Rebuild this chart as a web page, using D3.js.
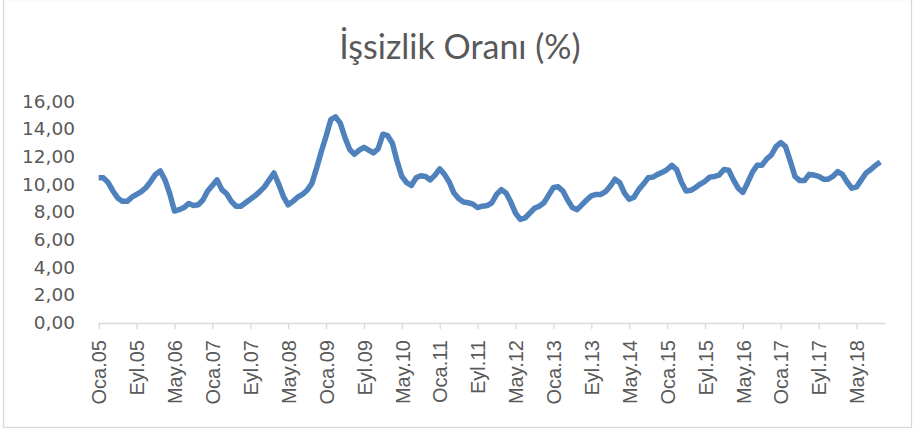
<!DOCTYPE html>
<html>
<head>
<meta charset="utf-8">
<script src="https://cdn.jsdelivr.net/npm/d3@7"></script>
<style>
  body { margin: 0; background: #fff; }
  .title { font-family: Lato, "Open Sans", sans-serif; fill: #595959; }
  .yl { font-family: "DejaVu Sans", sans-serif; fill: #595959; }
  .xaxis text { font-family: "Liberation Sans", Arial, sans-serif; fill: #595959; }
</style>
</head>
<body>
<div class="chart"></div>
<script>
// month names used to build the category labels (Oca.05 ... Kas.18)
var monthNames = ["Oca","Şub","Mar","Nis","May","Haz","Tem","Ağu","Eyl","Eki","Kas","Ara"];
var firstYear = 2005, categoryCount = 167;

// unemployment rate, Jan 2005 - Oct 2018
var rates = [
 10.45,10.45,10.1,9.5,9.0,8.75,8.75,9.05,9.25,9.45,9.75,10.2,
 10.7,10.95,10.3,9.3,8.05,8.15,8.3,8.6,8.45,8.5,8.85,9.5,
 9.9,10.3,9.6,9.3,8.75,8.4,8.4,8.65,8.9,9.15,9.45,9.8,
 10.3,10.8,10.0,9.1,8.5,8.75,9.05,9.25,9.55,10.05,11.15,12.35,
 13.45,14.65,14.85,14.4,13.35,12.5,12.15,12.45,12.65,12.45,12.25,12.55,
 13.6,13.5,12.95,11.65,10.55,10.1,9.9,10.45,10.6,10.55,10.3,10.65,
 11.1,10.7,10.15,9.35,8.95,8.7,8.65,8.55,8.3,8.4,8.45,8.65,
 9.25,9.6,9.35,8.7,7.9,7.45,7.55,7.9,8.25,8.4,8.65,9.2,
 9.75,9.8,9.5,8.85,8.3,8.15,8.5,8.85,9.15,9.25,9.25,9.45,
 9.85,10.35,10.1,9.35,8.9,9.05,9.6,10.0,10.45,10.5,10.7,10.85,
 11.05,11.35,11.05,10.15,9.5,9.55,9.75,10.0,10.2,10.5,10.55,10.65,
 11.05,11.0,10.3,9.7,9.4,10.1,10.85,11.35,11.35,11.8,12.1,12.7,
 13.0,12.7,11.65,10.55,10.25,10.25,10.7,10.65,10.55,10.35,10.35,10.55,
 10.9,10.7,10.15,9.7,9.8,10.3,10.8,11.05,11.35,11.6
];

var yTicks = [0,2,4,6,8,10,12,14,16];
var tickStep = 8;

var categories = d3.range(categoryCount).map(function(i){
    var y = firstYear + Math.floor(i/12);
    return monthNames[i%12] + "." + String(y).slice(2);
});

var width = 914, height = 429;

var svg = d3.select(".chart").append("svg")
    .attr("width", width)
    .attr("height", height);

// chart area border
svg.append("rect")
    .attr("x", 3.5).attr("y", -0.5)
    .attr("width", 908).attr("height", 428)
    .attr("fill", "#fff")
    .attr("stroke", "#d9d9d9")
    .attr("stroke-width", 1.3);

svg.append("text")
    .attr("class", "title")
    .attr("x", 460)
    .attr("y", 59)
    .attr("text-anchor", "middle")
    .attr("font-size", 34)
    .text("İşsizlik Oranı (%)");

var x = d3.scalePoint()
    .domain(categories)
    .range([98.7, 885]);

var y = d3.scaleLinear()
    .domain([0, 16])
    .range([322.5, 101]);

// y labels (no axis line)
svg.append("g").selectAll(".yl")
    .data(yTicks)
    .enter()
    .append("text")
    .attr("class", "yl")
    .attr("x", 75)
    .attr("y", function(d){ return y(d); })
    .attr("dy", "0.36em")
    .attr("text-anchor", "end")
    .attr("font-size", 18.5)
    .text(function(d){ return d3.format(".2f")(d).replace(".", ","); });

var xAxis = d3.axisBottom(x)
    .tickValues(categories.filter(function(d, i){ return i % tickStep == 0 && i <= 160; }))
    .tickSize(6)
    .tickSizeOuter(0);

var gx = svg.append("g")
    .attr("class", "xaxis")
    .attr("transform", "translate(0," + 323 + ")")
    .call(xAxis);

gx.select(".domain").attr("stroke", "#d9d9d9").attr("stroke-width", 1.5);
gx.selectAll(".tick line").attr("stroke", "#d9d9d9").attr("stroke-width", 1.3);
gx.selectAll(".tick text")
    .attr("font-size", 20)
    .attr("transform", "rotate(-90)")
    .attr("text-anchor", "end")
    .attr("x", -17)
    .attr("y", 0)
    .attr("dy", "0.36em");

var line = d3.line()
    .x(function(d, i){ return x(categories[i]); })
    .y(function(d){ return y(d); });

svg.append("path")
    .datum(rates)
    .attr("d", line)
    .attr("fill", "none")
    .attr("stroke", "#4f81bd")
    .attr("stroke-width", 5.5)
    .attr("stroke-linejoin", "round");
</script>
</body>
</html>
